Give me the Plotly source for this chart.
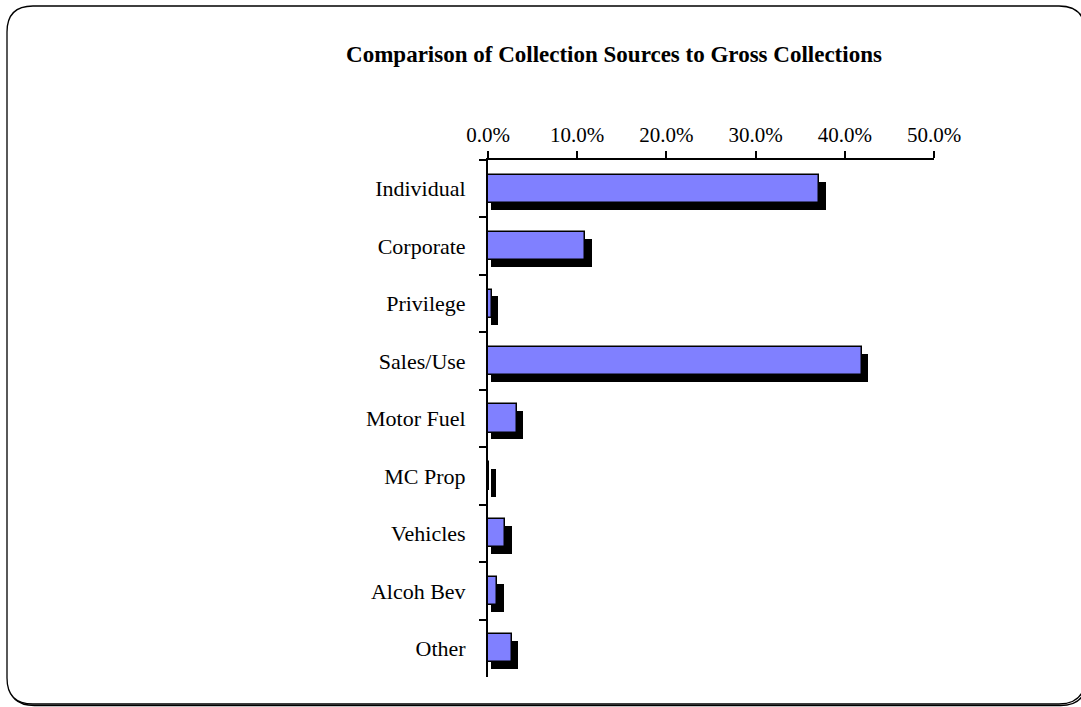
import plotly.graph_objects as go

categories = ["Individual", "Corporate", "Privilege", "Sales/Use", "Motor Fuel",
              "MC Prop", "Vehicles", "Alcoh Bev", "Other"]
shares = [0.371, 0.109, 0.004, 0.419, 0.032, 0.0015, 0.019, 0.010, 0.0265]

W, H = 1081, 707
px0, px1 = 488, 934   # plot area x pixels
py0, py1 = 160, 677   # plot area y pixels (top, bottom)

bar_w = 0.49
shadow_dy = 0.12
shadow_base = 0.0034
shadow_extra = 0.0075

fig = go.Figure()
fig.add_trace(go.Bar(
    y=categories, x=[v + shadow_extra - shadow_base for v in shares], base=shadow_base,
    orientation="h", width=bar_w, offset=-bar_w / 2 + shadow_dy,
    marker=dict(color="black", line=dict(width=0)), hoverinfo="skip", showlegend=False))
fig.add_trace(go.Bar(
    y=categories, x=shares, orientation="h", width=bar_w, offset=-bar_w / 2,
    marker=dict(color="#8080FF", line=dict(color="black", width=1.5)), showlegend=False))


def fx(p):
    return p / W


def fy(p):
    return 1 - p / H


def frame_path(L, T, R, B, r):
    return (f"M {fx(L)},{fy(T + r)} Q {fx(L)},{fy(T)} {fx(L + r)},{fy(T)} "
            f"L {fx(R - r)},{fy(T)} Q {fx(R)},{fy(T)} {fx(R)},{fy(T + r)} "
            f"L {fx(R)},{fy(B - r)} Q {fx(R)},{fy(B)} {fx(R - r)},{fy(B)} "
            f"L {fx(L + r)},{fy(B)} Q {fx(L)},{fy(B)} {fx(L)},{fy(B - r)} Z")


# rounded outer frame with a slight shadow on the bottom/right
fig.add_shape(type="path", path=frame_path(8.5, 7.5, 1086.5, 705.5, 26), xref="paper", yref="paper",
              line=dict(color="black", width=1.5), layer="below")
fig.add_shape(type="path", path=frame_path(7, 6, 1085, 704, 26), xref="paper", yref="paper",
              line=dict(color="black", width=1.3), fillcolor="white", layer="below")

font = "Liberation Serif, Times New Roman, serif"
fig.update_layout(
    width=W, height=H, margin=dict(l=0, r=0, t=0, b=0, autoexpand=False),
    paper_bgcolor="white", plot_bgcolor="rgba(0,0,0,0)",
    barmode="overlay", bargap=0,
    font=dict(family=font, size=22, color="black"),
    title=dict(text="<b>Comparison of Collection Sources to Gross Collections</b>",
               x=614 / W, xanchor="center", y=fy(54), yanchor="middle",
               font=dict(family=font, size=23, color="black")),
    xaxis=dict(domain=[px0 / W, px1 / W], side="top", range=[0, 0.5], dtick=0.1,
               tickformat=".1%", showgrid=False, zeroline=False, automargin=False,
               showline=True, linecolor="black", linewidth=2,
               ticks="outside", ticklen=7, tickwidth=2, tickcolor="black",
               ticklabelstandoff=1, tickfont=dict(size=21)),
    yaxis=dict(domain=[fy(py1), fy(py0)], autorange="reversed", automargin=False,
               categoryorder="array", categoryarray=categories,
               showgrid=False, zeroline=False,
               showline=True, linecolor="black", linewidth=2,
               ticks="outside", ticklen=7, tickwidth=2, tickcolor="black",
               tickson="boundaries", ticklabelstandoff=16),
)

fig.write_html("out.html", config={"displayModeBar": False},
               post_script="document.body.style.margin='0';")
